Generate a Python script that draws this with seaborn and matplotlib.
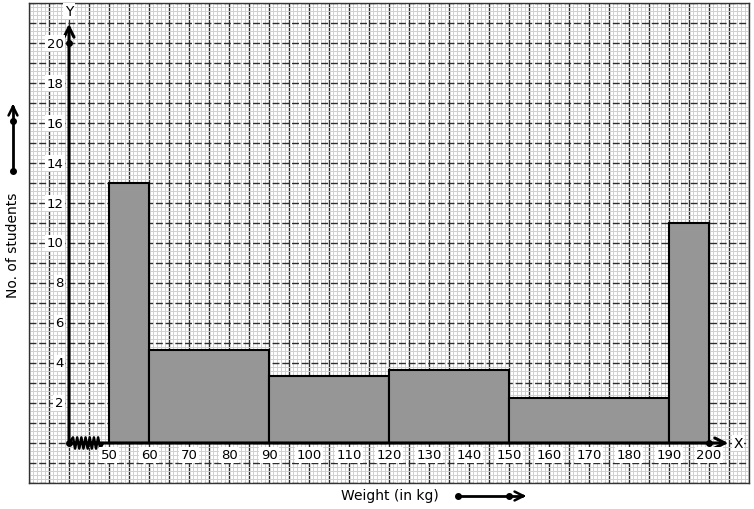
import numpy as np
import matplotlib
matplotlib.use("Agg")
import matplotlib.pyplot as plt
import seaborn as sns
from matplotlib.ticker import MultipleLocator
from matplotlib.lines import Line2D

# Dados: classes de peso (kg) e número de alunos
limites = [50, 60, 90, 120, 150, 190, 200]
frequencias = [13, 14, 10, 11, 9, 11]
largura_padrao = 10  # alturas ajustadas para largura de classe 10
xticks_rotulos = [50, 60, 70, 80, 90, 100, 110, 120, 130, 140, 150, 160, 170, 180, 190, 200]
yticks_rotulos = [2, 4, 6, 8, 10, 12, 14, 16, 18, 20]

sns.set_style("white")
plt.rcParams["font.family"] = ["DejaVu Sans"]
plt.rcParams["text.color"] = "black"

W, H = 754, 510
fig = plt.figure(figsize=(W / 100, H / 100), dpi=100)
ax = fig.add_axes([29 / W, 1 - 484 / H, 720 / W, 480 / H])

# Papel milimetrado
ax.xaxis.set_major_locator(MultipleLocator(5))
ax.xaxis.set_minor_locator(MultipleLocator(1))
ax.yaxis.set_major_locator(MultipleLocator(1))
ax.yaxis.set_minor_locator(MultipleLocator(0.2))
ax.grid(which="minor", color="#d0d0d0", linewidth=0.7)
ax.grid(which="major", axis="x", color="#2e2e2e", linewidth=1.0)
ax.grid(which="major", axis="y", color="#2e2e2e", linewidth=1.0, linestyle=(0, (5, 2)))
ax.set_axisbelow(True)
ax.tick_params(which="both", length=0, labelbottom=False, labelleft=False)

# Histograma com larguras desiguais
meios = [(a + b) / 2 for a, b in zip(limites[:-1], limites[1:])]
pesos = [f * largura_padrao for f in frequencias]
sns.histplot(
    x=meios,
    weights=pesos,
    bins=limites,
    stat="frequency",
    color="#969696",
    alpha=1,
    edgecolor="black",
    linewidth=1.5,
    ax=ax,
)

ax.set_xlim(30, 210)
ax.set_ylim(-2, 22)
ax.set_xlabel("")
ax.set_ylabel("")
for s in ax.spines.values():
    s.set_color("#333333")
    s.set_linewidth(1.0)

# Eixos X e Y
ax.annotate("", xy=(205.5, 0), xytext=(40, 0),
            arrowprops=dict(arrowstyle="->", lw=2.2, color="black", mutation_scale=18),
            zorder=5)
ax.annotate("", xy=(40, 21.1), xytext=(40, 0),
            arrowprops=dict(arrowstyle="->", lw=2.2, color="black", mutation_scale=18),
            zorder=5)
ax.plot([40, 200, 40], [0, 0, 20], "o", color="black", markersize=4, zorder=6)

# Quebra do eixo (zigue-zague)
zx = np.linspace(41.0, 47.8, 14)
zy = np.where(np.arange(14) % 2 == 0, 0.28, -0.28)
ax.plot(np.r_[40, zx, 48.5], np.r_[0, zy, 0], color="black", linewidth=1.8, zorder=6)

caixa = dict(facecolor="white", edgecolor="none", pad=1)
ax.text(40, 21.6, "Y", ha="center", va="center", fontsize=10, bbox=caixa, zorder=7)
ax.text(207.3, 0, "X", ha="center", va="center", fontsize=10, bbox=caixa, zorder=7)

for v in xticks_rotulos:
    ax.text(v, -0.6, str(v), ha="center", va="center", fontsize=9.5, bbox=caixa, zorder=7)
for v in yticks_rotulos:
    ax.text(38.6, v, str(v), ha="right", va="center", fontsize=9.5, bbox=caixa, zorder=7)

# Rótulos dos eixos com setas
fig.text(13 / W, 1 - 245 / H, "No. of students", rotation=90, ha="center", va="center", fontsize=10)
fig.text(390 / W, 1 - 496 / H, "Weight (in kg)", ha="center", va="center", fontsize=10)

fig.add_artist(Line2D([13 / W, 13 / W], [1 - 172 / H, 1 - 108 / H], color="black", lw=2,
                      transform=fig.transFigure))
fig.add_artist(Line2D([13 / W] * 2, [1 - 172 / H, 1 - 122 / H], marker="o", markersize=4,
                      linestyle="none", color="black", transform=fig.transFigure))
ax.annotate("", xy=(13 / W, 1 - 102 / H), xytext=(13 / W, 1 - 112 / H), xycoords="figure fraction",
            arrowprops=dict(arrowstyle="->", lw=1.8, color="black", mutation_scale=16))

fig.add_artist(Line2D([458 / W, 522 / W], [1 - 497 / H] * 2, color="black", lw=2,
                      transform=fig.transFigure))
fig.add_artist(Line2D([458 / W, 509 / W], [1 - 497 / H] * 2, marker="o", markersize=4,
                      linestyle="none", color="black", transform=fig.transFigure))
ax.annotate("", xy=(529 / W, 1 - 497 / H), xytext=(518 / W, 1 - 497 / H), xycoords="figure fraction",
            arrowprops=dict(arrowstyle="->", lw=1.8, color="black", mutation_scale=16))

fig.savefig("out.png", dpi=100, facecolor="white")
